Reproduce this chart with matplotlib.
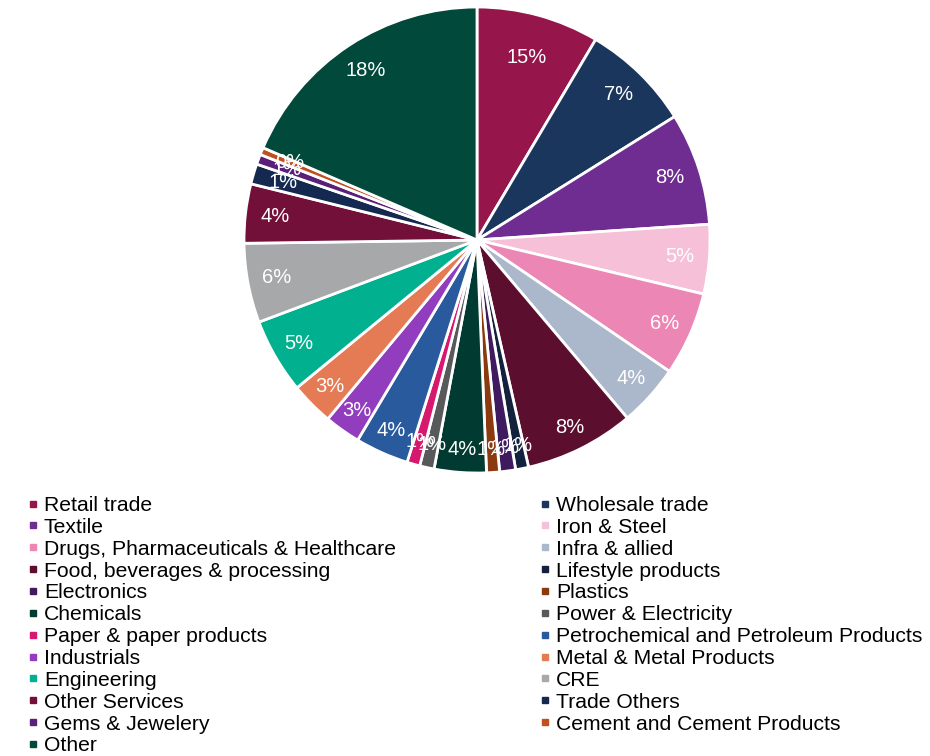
import numpy as np
import matplotlib.pyplot as plt
from matplotlib.lines import Line2D

plt.rcParams['font.family'] = ['Liberation Sans', 'DejaVu Sans']

sectors = ["Retail trade", "Wholesale trade", "Textile", "Iron & Steel",
           "Drugs, Pharmaceuticals & Healthcare", "Infra & allied",
           "Food, beverages & processing", "Lifestyle products", "Electronics",
           "Plastics", "Chemicals", "Power & Electricity", "Paper & paper products",
           "Petrochemical and Petroleum Products", "Industrials",
           "Metal & Metal Products", "Engineering", "CRE", "Other Services",
           "Trade Others", "Gems & Jewelery", "Cement and Cement Products", "Other"]

# slice shares (%)
share = [8.5, 7.6, 7.8, 4.8, 5.8, 4.3, 7.6, 0.9, 1.1, 0.9, 3.6, 1.0, 0.9,
         3.7, 2.5, 3.0, 5.2, 5.5, 4.1, 1.4, 0.7, 0.5, 18.5]

# printed labels
pct_labels = ["15%", "7%", "8%", "5%", "6%", "4%", "8%", "1%", "1%", "1%", "4%",
              "1%", "1%", "4%", "3%", "3%", "5%", "6%", "4%", "1%", "1%", "0%", "18%"]

colors = ["#96154A", "#1B365D", "#6F2C91", "#F5C0D8", "#EC86B4", "#ABB7CA",
          "#5B0E2D", "#14213D", "#3F1A5E", "#8B3A0F", "#003A30", "#58595B",
          "#D6186E", "#2A5A9E", "#923DBE", "#E47B55", "#00B08F", "#A7A8AA",
          "#73103A", "#142850", "#5A1F78", "#C0501F", "#00493B"]

W, H = 930, 756
fig = plt.figure(figsize=(W / 100, H / 100), dpi=100)

cx, cy, R = 477, 240, 233
ax = fig.add_axes([(cx - R) / W, (H - cy - R) / H, 2 * R / W, 2 * R / H])
wedges, _ = ax.pie(share, colors=colors, startangle=90, counterclock=False,
                   wedgeprops=dict(edgecolor="white", linewidth=2))
ax.set_xlim(-1, 1)
ax.set_ylim(-1, 1)
ax.set_aspect("equal")

# label radius, a few pulled in
label_r = {0: 0.81}
for i, (w, txt) in enumerate(zip(wedges, pct_labels)):
    mid = np.deg2rad((w.theta1 + w.theta2) / 2)
    r = label_r.get(i, 0.87 + 0.03 * max(0, -np.sin(mid)))
    ax.text(r * np.cos(mid), r * np.sin(mid), txt, ha="center", va="center",
            color="white", fontsize=14.5)

# legend filled row by row
handles = [Line2D([], [], marker="s", linestyle="none", markersize=5,
                  markerfacecolor=c, markeredgecolor=c) for c in colors]
order = list(range(0, len(sectors), 2)) + list(range(1, len(sectors), 2))
fig.legend([handles[i] for i in order], [sectors[i] for i in order],
           ncol=2, loc="upper left", bbox_to_anchor=(28 / W, 1 - 496 / H),
           frameon=False, fontsize=15.2, labelspacing=0.135,
           handlelength=0.5, handletextpad=0.25, columnspacing=6.83,
           borderpad=0, borderaxespad=0)

fig.savefig("out.png", dpi=100)
